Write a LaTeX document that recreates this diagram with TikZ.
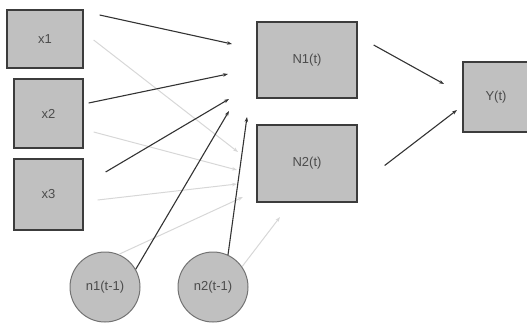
\documentclass[tikz,border=0pt]{standalone}
\usepackage{fontspec}
\setmainfont{Liberation Sans}
\usetikzlibrary{arrows.meta}
\definecolor{boxgray}{RGB}{192,192,192}
\definecolor{edgegray}{RGB}{60,60,60}
\definecolor{lightline}{RGB}{215,215,215}
\tikzset{
    unit/.style={draw=edgegray, fill=boxgray, line width=1.3pt, font=\fontsize{13}{15}\selectfont, text=black!70},
    state/.style={circle, draw=black!55, fill=boxgray, line width=1pt, minimum size=70pt, inner sep=0pt, font=\fontsize{13}{15}\selectfont, text=black!70},
    strong/.style={-{Stealth[length=5pt,width=3.5pt]}, line width=1.1pt, draw=black!80},
    weak/.style={-{Stealth[length=5pt,width=3.5pt]}, line width=1pt, draw=lightline}
}
\begin{document}
\begin{tikzpicture}[x=1pt, y=-1pt]
    \useasboundingbox (0,0) rectangle (527,325);

    % Inputs
    \node[unit, minimum width=76pt, minimum height=58pt] (x1) at (45,39) {x1};
    \node[unit, minimum width=69pt, minimum height=69pt] (x2) at (48.5,113.5) {x2};
    \node[unit, minimum width=69pt, minimum height=71pt] (x3) at (48.5,194.5) {x3};

    % Previous states
    \node[state] (n1) at (105,287) {n1(t-1)};
    \node[state] (n2) at (213,287) {n2(t-1)};

    % Hidden units and output
    \node[unit, minimum width=100pt, minimum height=76pt] (N1) at (307,60) {N1(t)};
    \node[unit, minimum width=100pt, minimum height=77pt] (N2) at (307,163.5) {N2(t)};
    \node[unit, minimum width=66pt, minimum height=70pt] (Y) at (496,97) {Y(t)};

    % Arrow ends
    \coordinate (a1) at (232,44);
    \coordinate (a2) at (228,74);
    \coordinate (a3) at (229,99);
    \coordinate (a4) at (229,111);
    \coordinate (a5) at (247,117);
    \coordinate (b1) at (238,152);
    \coordinate (b2) at (237,170);
    \coordinate (b3) at (237,184);
    \coordinate (b4) at (243,197);
    \coordinate (b5) at (280,217);
    \coordinate (y1) at (444,84);
    \coordinate (y2) at (457,110);

    % Weights towards N2 (light)
    \draw[weak] ([shift={(10,1)}]x1.east) -- (b1);
    \draw[weak] ([shift={(10,18.5)}]x2.east) -- (b2);
    \draw[weak] ([shift={(14,5.5)}]x3.east) -- (b3);
    \draw[weak] (n1.67) -- (b4);
    \draw[weak] (n2.35) -- (b5);

    % Weights towards N1 (dark)
    \draw[strong] ([shift={(16,-24)}]x1.east) -- (a1);
    \draw[strong] ([shift={(5,-10.5)}]x2.east) -- (a2);
    \draw[strong] ([shift={(22,-22.5)}]x3.east) -- (a3);
    \draw[strong] (n1.30) -- (a4);
    \draw[strong] (n2.65) -- (a5);

    % Outputs
    \draw[strong] ([shift={(16,-15)}]N1.east) -- (y1);
    \draw[strong] ([shift={(27,2)}]N2.east) -- (y2);
\end{tikzpicture}
\end{document}
